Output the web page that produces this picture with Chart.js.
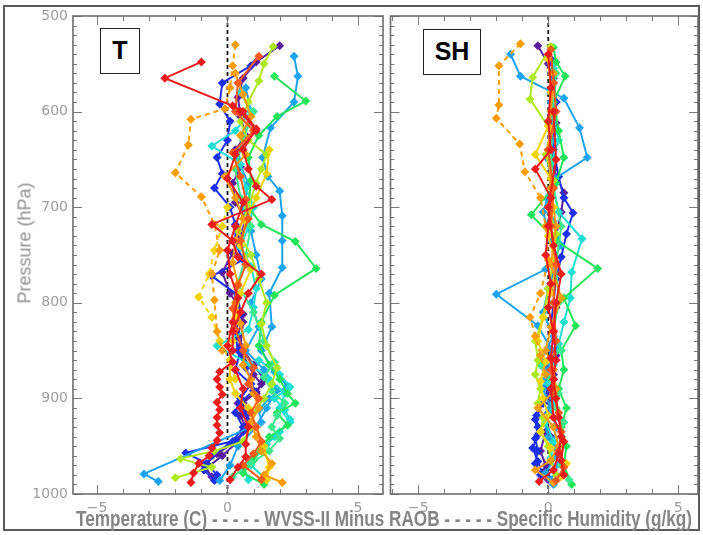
<!DOCTYPE html>
<html><head><meta charset="utf-8">
<script src="https://cdn.jsdelivr.net/npm/chart.js@4.4.1/dist/chart.umd.min.js"></script>
<style>
html,body{margin:0;padding:0;background:#fff;}
#wrap{position:relative;width:703px;height:535px;overflow:hidden;background:#fff;}
#frame{position:absolute;left:3px;top:5px;width:697px;height:526px;border:2px solid #5a5a5a;box-sizing:border-box;}
canvas{position:absolute;top:0;}
#cT{left:0;}
#cS{left:386px;}
.lab{position:absolute;border:1.5px solid #222;background:#fff;font-family:"Liberation Sans",Arial,sans-serif;font-weight:bold;font-size:25px;color:#000;text-align:center;box-sizing:border-box;line-height:43px;}
#ytitle{position:absolute;left:25px;top:243px;transform:translate(-50%,-50%) rotate(-90deg);font-family:"Liberation Sans",Arial,sans-serif;font-size:18px;color:#8f8f8f;white-space:nowrap;}
#xtitle{position:absolute;left:76px;top:508px;font-family:"Liberation Sans",Arial,sans-serif;font-weight:bold;font-size:22px;line-height:22px;color:#858585;white-space:nowrap;transform-origin:0 0;}
</style></head>
<body>
<div id="wrap">
<div id="frame"></div>
<canvas id="cT" width="390" height="522"></canvas>
<canvas id="cS" width="317" height="522"></canvas>
<div class="lab" style="left:100px;top:28px;width:40px;height:46px;">T</div>
<div class="lab" style="left:423px;top:29px;width:58px;height:46px;">SH</div>
<div id="ytitle">Pressure (hPa)</div>
<div id="xtitle">Temperature (C) - - - - - WVSS-II Minus RAOB - - - - - Specific Humidity (g/kg)</div>
</div>
<script>
// ---------- tick labels ----------
const xTickValues = [-5, 0, 5];
const yTickValues = [500, 600, 700, 800, 900, 1000];

// ---------- Temperature panel (T): pressure (hPa) and WVSS-II minus RAOB (C) ----------
const tP_purple1 = [531,548,565,585,605,625,640,658,675,695,712,730,748,768,790,812,835,855,875,885,895,905,915,925,935,945,958,970,982];
const tX_purple1 = [2.0,1.1,0.6,0.4,0.5,0.7,0.3,0.5,0.2,0.3,0.7,0.5,0.2,-0.2,0.1,0.6,0.4,0.6,1.0,1.3,1.1,0.4,0.7,0.9,0.6,0.3,-0.4,-0.9,-0.6];
const tP_purple2 = [820,845,865,880,893,905,918,930,945,960,975];
const tX_purple2 = [0.6,0.5,1.0,1.4,1.1,0.6,0.5,0.7,0.4,-0.2,-0.9];
const tP_blue1 = [552,570,592,610,630,648,665,680,700,718,738,755,772,792,812,832,850,868,880,892,904,918,930,944,957,968,980];
const tX_blue1 = [0.9,-0.2,-0.3,0.1,0.0,-0.4,-0.2,-0.5,0.1,0.3,0.3,0.6,-0.6,0.4,0.5,0.3,0.4,0.7,0.9,1.0,0.5,0.7,0.9,0.3,-1.6,-0.8,-0.4];
const tP_blue2 = [850,870,885,900,915,930,945,960,975,986];
const tX_blue2 = [0.5,0.3,0.9,0.5,0.3,0.6,0.2,-0.6,-0.9,-0.5];
const tP_sky1 = [542,563,590,617,648,668,683,709,735,763,790,825,850,872,887,900,912,925,979,987];
const tX_sky1 = [2.55,2.7,2.55,1.65,1.35,1.55,2.0,2.1,2.1,2.1,1.6,1.7,1.3,1.8,2.3,1.6,1.2,1.3,-3.2,-2.65];
const tP_sky2 = [575,600,625,650,675,700,725,750,775,800,825,850,870,890,910,930,950,970,986];
const tX_sky2 = [0.7,0.9,0.6,0.4,0.8,0.6,0.9,1.1,1.3,0.9,1.2,0.7,1.4,1.9,1.5,1.1,0.4,0.1,-0.3];
const tP_cyan1 = [580,600,620,636,655,680,700,720,742,762,785,805,828,845,865,880,895,910,925,940,955,970,985];
const tX_cyan1 = [0.5,0.9,0.3,-0.6,0.5,0.7,1.0,0.8,0.5,0.9,1.1,1.0,0.8,-0.4,0.9,1.6,2.2,2.0,2.4,1.8,1.2,0.9,1.5];
const tP_cyan2 = [860,875,888,900,912,922,935,948,960,972,985];
const tX_cyan2 = [1.2,2.0,2.4,1.8,2.2,2.4,2.0,1.5,1.0,0.6,0.8];
const tP_green1 = [563,589,605,625,648,672,700,718,736,764,792,820,845,865,880,895,905,915,928,940,952,965,978,990];
const tX_green1 = [1.8,3.0,1.9,1.2,0.8,0.9,0.8,1.3,2.6,3.4,1.8,1.3,1.2,1.6,2.0,2.3,2.6,1.9,2.3,1.6,1.3,1.0,0.6,1.4];
const tP_green2 = [600,630,660,690,720,750,780,810,840,862,878,892,905,918,930,942,955,968,982];
const tX_green2 = [1.0,0.6,0.3,0.5,0.9,0.7,0.4,1.0,1.4,1.8,1.4,1.7,2.2,1.9,1.7,2.0,1.6,0.9,0.2];
const tP_ygreen = [532,550,568,590,610,630,645,660,675,700,725,750,775,800,822,845,868,885,900,915,930,945,955,963,972,983];
const tX_ygreen = [1.75,1.4,1.2,0.8,0.5,0.8,1.5,1.3,1.1,0.8,0.4,0.9,1.2,1.5,1.3,1.5,1.9,1.7,1.4,1.0,0.9,0.6,-0.5,-1.8,-0.6,-2.0];
const tP_yellow = [640,665,690,715,740,765,790,815,840,860,880,895,910,930,950,972,985];
const tX_yellow = [1.6,1.5,1.1,0.7,0.5,0.9,0.5,0.3,0.2,0.1,0.1,0.3,0.8,1.1,1.4,1.6,1.5];
const tP_yellowDash = [700,720,745,770,794,815,840,860,880];
const tX_yellowDash = [0.0,-0.2,-0.5,-0.7,-1.1,-0.6,-0.3,0.1,0.3];
const tP_orangeDash = [530,552,575,597,608,635,664,689,718,745,770,797,830,850];
const tX_orangeDash = [0.3,0.2,0.1,-0.1,-1.4,-1.5,-2.0,-1.0,-0.5,-0.3,-0.6,-0.5,-0.4,-0.2];
const tP_orange = [560,582,605,625,645,668,690,712,735,758,780,800,822,845,865,880,895,910,925,940,955,968,980,988];
const tX_orange = [0.3,0.6,0.9,0.5,0.7,-0.1,0.3,0.6,0.3,0.2,0.4,0.3,0.5,0.7,0.6,0.9,1.0,1.2,0.9,1.1,1.3,1.7,1.4,2.1];
const tP_redorange = [542,570,600,620,643,668,692,712,735,760,782,806,828,850,868,885,900,915,930,945,958,970,985];
const tX_redorange = [1.2,0.4,0.3,1.0,0.2,0.5,0.7,0.8,0.5,0.7,0.4,0.2,0.3,0.6,1.0,0.8,1.2,0.9,1.1,1.3,1.0,0.6,1.3];
const tP_red1 = [548,565,594,600,618,640,660,678,692,718,735,752,770,790,810,830,850];
const tX_red1 = [-1.0,-2.4,0.2,0.6,1.1,0.6,0.8,1.1,1.7,-0.6,0.2,0.4,1.3,0.8,0.5,0.2,0.2];
const tP_red2 = [600,620,645,670,695,720,745,770,795,820,845,862,872,880,888,896,904,912,920,928,936,944,952,960,968,978,988];
const tX_red2 = [0.5,1.1,0.3,0.0,0.6,0.3,0.0,0.1,0.4,0.2,0.0,0.2,-0.3,-0.4,-0.3,-0.2,-0.4,-0.3,-0.4,-0.4,-0.3,-0.4,-0.6,-0.7,-1.1,-1.3,-1.4];
const tP_red3 = [870,890,910,930,948,961,972,985];
const tX_red3 = [0.3,0.6,0.5,0.8,0.7,0.7,0.4,0.1];

// ---------- Specific humidity panel (SH): pressure (hPa) and WVSS-II minus RAOB (g/kg) ----------
const sP_purple1 = [531,550,570,590,612,635,660,685,705,730,755,780,805,830,855,875,895,915,935,955,970,985];
const sX_purple1 = [-0.4,0.0,0.2,0.3,0.3,0.1,0.2,0.6,0.5,0.3,0.2,0.1,0.3,0.2,0.3,0.2,0.1,0.0,-0.1,-0.3,-0.1,0.0];
const sP_purple2 = [860,880,900,920,940,960,975,988];
const sX_purple2 = [0.0,0.2,0.1,-0.1,0.1,0.3,-0.1,0.2];
const sP_blue1 = [545,565,590,615,640,668,690,706,728,752,775,800,825,850,870,888,905,922,938,952,966,980];
const sX_blue1 = [0.1,0.2,0.3,0.1,0.2,0.4,0.6,0.95,0.7,0.5,0.3,0.2,0.1,0.3,0.2,0.0,-0.2,-0.5,-0.4,-0.6,-0.4,-0.2];
const sP_blue2 = [850,870,890,905,918,930,942,955,968,980];
const sX_blue2 = [0.1,-0.1,0.2,-0.2,-0.45,-0.4,-0.5,-0.4,-0.5,-0.3];
const sP_sky1 = [540,563,586,617,648,670,692,715,740,765,791,824,848,870,890,910,930,950,968,985];
const sX_sky1 = [-1.45,-1.07,0.6,1.2,1.5,0.27,0.0,0.2,0.5,-0.1,-2.0,-0.4,0.1,0.0,-0.2,0.1,0.3,0.2,0.4,0.1];
const sP_sky2 = [560,590,620,650,680,705,735,760,785,810,835,860,880,900,920,940,960,978,990];
const sX_sky2 = [0.2,0.1,0.3,0.0,0.1,-0.2,0.1,0.3,0.0,-0.2,0.2,-0.3,-0.1,0.2,-0.2,0.0,0.3,-0.1,0.2];
const sP_cyan = [555,580,605,630,655,680,705,733,768,795,820,843,865,885,905,925,945,962,980];
const sX_cyan = [0.2,0.1,0.2,0.4,0.1,0.2,0.4,1.3,0.9,0.85,0.6,0.4,0.2,0.0,0.2,-0.1,0.2,0.1,0.3];
const sP_green1 = [533,548,563,590,620,648,675,708,735,764,795,824,850,870,890,910,930,950,970,990];
const sX_green1 = [0.2,0.3,0.65,0.2,0.4,0.6,0.3,-0.65,0.3,1.9,0.6,1.05,0.5,0.6,0.4,0.7,0.5,0.7,0.6,0.9];
const sP_green2 = [560,600,640,680,720,760,800,830,850,865,880,895,910,925,940,955,970,985];
const sX_green2 = [0.3,0.2,0.1,0.2,0.5,0.3,0.4,0.2,0.5,-0.3,0.1,0.4,0.3,0.6,0.5,0.4,0.5,0.8];
const sP_ygreen = [532,564,587,620,645,672,700,728,755,785,815,840,860,875,890,905,920,935,950,965,980];
const sX_ygreen = [0.1,-0.6,-0.7,0.1,-0.1,0.2,0.0,0.3,0.2,0.0,-0.2,-0.5,-0.4,-0.5,-0.3,-0.4,-0.2,-0.3,0.0,0.1,0.3];
const sP_yellow = [545,580,615,645,670,700,730,760,790,815,840,862,882,900,918,935,952,968,982];
const sX_yellow = [0.0,0.1,0.0,-0.5,0.1,0.2,0.0,0.3,0.1,-0.2,-0.4,-0.1,-0.3,-0.2,0.0,-0.3,0.1,0.7,0.5];
const sP_orangeDash = [529,552,593,607,634,663,690,720,755,790,815,835,855,875];
const sX_orangeDash = [-1.07,-1.9,-1.9,-2.0,-1.1,-0.9,-0.3,-0.1,0.0,-0.3,-0.7,-0.5,-0.3,-0.1];
const sP_orange = [560,600,640,680,720,760,795,825,850,870,890,910,930,950,965,975,988];
const sX_orange = [0.2,0.1,0.0,0.1,0.3,0.1,0.5,0.1,-0.1,0.2,0.3,-0.4,0.2,0.4,0.1,-0.5,0.2];
const sP_redorange = [535,570,600,640,680,720,760,800,840,870,895,915,935,955,972,986];
const sX_redorange = [0.1,0.2,0.3,0.0,0.2,0.1,0.3,0.2,0.3,0.1,0.2,0.4,0.5,0.4,0.6,0.3];
const sP_red1 = [540,575,610,640,660,690,720,750,780,805,830,858,880,900,920,940,958,975,987];
const sX_red1 = [0.0,0.1,0.0,0.1,-0.5,0.1,0.0,-0.1,0.1,0.0,0.2,0.1,0.2,0.3,0.4,0.5,0.4,0.2,-0.35];
const sP_red2 = [600,650,700,740,770,800,830,860,890,920,945,965,980];
const sX_red2 = [0.2,0.3,0.0,0.2,0.5,0.3,0.2,0.3,0.1,0.2,0.6,0.5,0.6];

// ---------- styles ----------
const COL = {
  purple:'#5a1f9e', blue:'#1c30e8', sky:'#1ca4f0', cyan:'#1edfd4', green:'#22e55a',
  spring:'#3de88e', ygreen:'#aee81e', yellow:'#f3d300', orange:'#ff9c00', redorange:'#ff5a16', red:'#ec1b1b'
};

const tSeries = [
  {p:tP_purple1, x:tX_purple1, c:COL.purple},
  {p:tP_purple2, x:tX_purple2, c:COL.purple},
  {p:tP_blue1, x:tX_blue1, c:COL.blue},
  {p:tP_blue2, x:tX_blue2, c:COL.blue},
  {p:tP_sky1, x:tX_sky1, c:COL.sky},
  {p:tP_sky2, x:tX_sky2, c:COL.sky},
  {p:tP_cyan1, x:tX_cyan1, c:COL.cyan},
  {p:tP_cyan2, x:tX_cyan2, c:COL.cyan},
  {p:tP_green1, x:tX_green1, c:COL.green},
  {p:tP_green2, x:tX_green2, c:COL.spring},
  {p:tP_ygreen, x:tX_ygreen, c:COL.ygreen},
  {p:tP_yellow, x:tX_yellow, c:COL.yellow},
  {p:tP_yellowDash, x:tX_yellowDash, c:COL.yellow, dash:true},
  {p:tP_orangeDash, x:tX_orangeDash, c:COL.orange, dash:true},
  {p:tP_orange, x:tX_orange, c:COL.orange},
  {p:tP_redorange, x:tX_redorange, c:COL.redorange},
  {p:tP_red3, x:tX_red3, c:COL.red},
  {p:tP_red2, x:tX_red2, c:COL.red},
  {p:tP_red1, x:tX_red1, c:COL.red}
];
const sSeries = [
  {p:sP_purple1, x:sX_purple1, c:COL.purple},
  {p:sP_purple2, x:sX_purple2, c:COL.purple},
  {p:sP_blue1, x:sX_blue1, c:COL.blue},
  {p:sP_blue2, x:sX_blue2, c:COL.blue},
  {p:sP_sky1, x:sX_sky1, c:COL.sky},
  {p:sP_sky2, x:sX_sky2, c:COL.sky},
  {p:sP_cyan, x:sX_cyan, c:COL.cyan},
  {p:sP_green1, x:sX_green1, c:COL.green},
  {p:sP_green2, x:sX_green2, c:COL.spring},
  {p:sP_ygreen, x:sX_ygreen, c:COL.ygreen},
  {p:sP_yellow, x:sX_yellow, c:COL.yellow},
  {p:sP_orangeDash, x:sX_orangeDash, c:COL.orange, dash:true},
  {p:sP_orange, x:sX_orange, c:COL.orange},
  {p:sP_redorange, x:sX_redorange, c:COL.redorange},
  {p:sP_red2, x:sX_red2, c:COL.red},
  {p:sP_red1, x:sX_red1, c:COL.red}
];

function toDatasets(list){
  // Chart.js draws dataset 0 last (on top); reverse so red ends up on top
  return list.slice().reverse().map(s => ({
    data: s.p.map((p,i) => ({x:s.x[i], y:p})),
    showLine: true,
    borderColor: s.c,
    backgroundColor: s.c,
    borderWidth: 2,
    borderDash: s.dash ? [5,4] : [],
    pointStyle: 'rectRot',
    pointRadius: 4.5,
    pointBorderWidth: 0,
    pointBackgroundColor: s.c,
    tension: 0
  }));
}

const framePlugin = {
  id: 'idlFrame',
  beforeDatasetsDraw(chart){
    const {ctx, chartArea:a, scales:{x}} = chart;
    const x0 = x.getPixelForValue(0);
    ctx.save();
    ctx.strokeStyle = '#151515';
    ctx.lineWidth = 1.8;
    ctx.setLineDash([4,3]);
    ctx.beginPath(); ctx.moveTo(x0, a.top); ctx.lineTo(x0, a.bottom); ctx.stroke();
    ctx.restore();
  },
  afterDatasetsDraw(chart){
    const {ctx, chartArea:a, scales:{x, y}} = chart;
    ctx.save();
    ctx.strokeStyle = '#7a7a7a';
    ctx.lineWidth = 1;
    ctx.beginPath();
    for (let v = Math.ceil(x.min); v <= Math.floor(x.max); v++){
      const px = Math.round(x.getPixelForValue(v)) + 0.5;
      const len = (v % 5 === 0) ? 9 : 5;
      ctx.moveTo(px, a.bottom); ctx.lineTo(px, a.bottom - len);
      ctx.moveTo(px, a.top); ctx.lineTo(px, a.top + len);
    }
    for (let p = 500; p <= 1000; p += 10){
      const py = Math.round(y.getPixelForValue(p)) + 0.5;
      const len = (p % 100 === 0) ? 9 : 4;
      ctx.moveTo(a.left, py); ctx.lineTo(a.left + len, py);
      ctx.moveTo(a.right, py); ctx.lineTo(a.right - len, py);
    }
    ctx.stroke();
    ctx.lineWidth = 1.6;
    ctx.strokeStyle = '#6e6e6e';
    ctx.strokeRect(a.left, a.top, a.right - a.left, a.bottom - a.top);
    ctx.restore();
  }
};

const tickFont = {family:'"DejaVu Sans", sans-serif', size:14};
function makeChart(id, series, xmin, xmax, showY, pad){
  return new Chart(document.getElementById(id), {
    type: 'scatter',
    data: {datasets: toDatasets(series)},
    options: {
      responsive:false, animation:false, devicePixelRatio:1,
      events: [],
      layout:{padding:pad},
      plugins:{legend:{display:false}, tooltip:{enabled:false}},
      scales:{
        x:{
          type:'linear', min:xmin, max:xmax,
          grid:{display:false, drawTicks:false}, border:{display:false},
          afterBuildTicks: s => { s.ticks = xTickValues.map(v => ({value:v})); },
          afterFit: s => { s.height = 28; },
          ticks:{padding:6, color:'#9c9c9c', font:tickFont, maxRotation:0, autoSkip:false,
                 callback: v => (v < 0 ? '\u2212' + Math.abs(v) : String(v))}
        },
        y:{
          type:'linear', reverse:true, min:500, max:1000, display:showY,
          grid:{display:false, drawTicks:false}, border:{display:false},
          afterBuildTicks: s => { s.ticks = yTickValues.map(v => ({value:v})); },
          afterFit: s => { s.width = showY ? 73 : 0; },
          ticks:{padding:5, color:'#9c9c9c', font:tickFont, autoSkip:false,
                 callback: v => String(v)}
        }
      }
    },
    plugins:[framePlugin]
  });
}

makeChart('cT', tSeries, -5.92, 5.96, true, {left:0, right:7, top:16, bottom:0});
makeChart('cS', sSeries, -6.07, 5.76, false, {left:2, right:5, top:16, bottom:0});

// fit bottom caption to its span in the reference
const xt = document.getElementById('xtitle');
const w = xt.getBoundingClientRect().width;
xt.style.transform = 'scaleX(' + (616 / w) + ')';
</script>
</body></html>
